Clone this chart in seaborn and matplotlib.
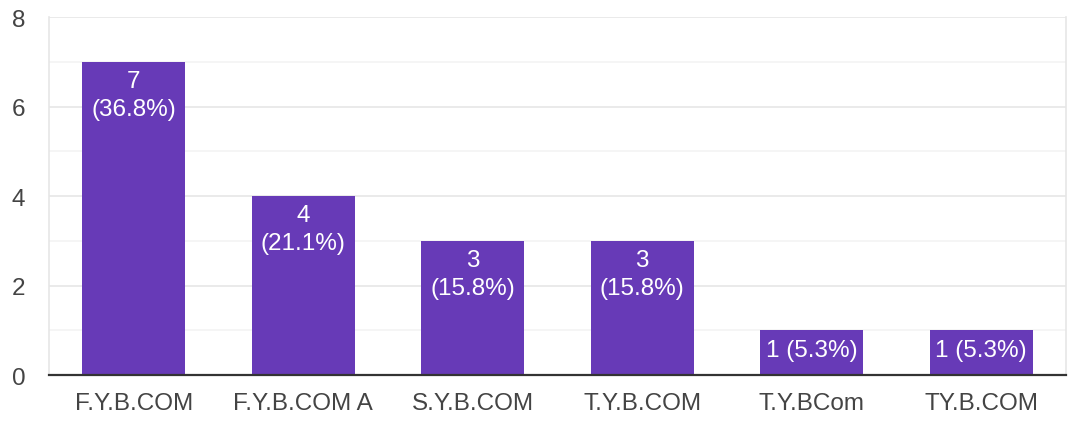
import pandas as pd
import matplotlib.pyplot as plt
import seaborn as sns

# Chart data
classes = ["F.Y.B.COM", "F.Y.B.COM A", "S.Y.B.COM", "T.Y.B.COM", "T.Y.BCom", "TY.B.COM"]
counts = [7, 4, 3, 3, 1, 1]
percents = ["36.8%", "21.1%", "15.8%", "15.8%", "5.3%", "5.3%"]

df = pd.DataFrame({"class": classes, "count": counts, "pct": percents})

sns.set_style("white")
plt.rcParams["font.family"] = ["Liberation Sans", "DejaVu Sans"]

fig = plt.figure(figsize=(10.72, 4.27), dpi=100)
ax = fig.add_axes([0.0457, 0.1194, 0.9487, 0.8384])

sns.barplot(data=df, x="class", y="count", color="#673ab7", saturation=1,
            width=0.61, linewidth=0, ax=ax, zorder=3)

ax.set_xlim(-0.5, 5.5)
ax.set_ylim(0, 8)
ax.set_yticks([0, 2, 4, 6, 8])
ax.set_yticks([1, 3, 5, 7], minor=True)
ax.grid(axis="y", which="major", color="#e6e6e6", lw=1.2, zorder=0)
ax.grid(axis="y", which="minor", color="#f3f3f3", lw=1.2, zorder=0)
ax.tick_params(axis="both", which="both", length=0, labelsize=17.5, colors="#444444")
ax.tick_params(axis="x", pad=12)
ax.tick_params(axis="y", pad=17)
ax.set_xlabel("")
ax.set_ylabel("")

for side in ["left", "right", "top"]:
    ax.spines[side].set_color("#e6e6e6")
    ax.spines[side].set_linewidth(1.2)
ax.spines["top"].set_visible(False)
ax.spines["bottom"].set_color("#333333")
ax.spines["bottom"].set_linewidth(1.6)
ax.spines["bottom"].set_zorder(5)

# Bar labels
for i, row in df.iterrows():
    if row["count"] > 1:
        txt = f"{row['count']}\n({row['pct']})"
    else:
        txt = f"{row['count']} ({row['pct']})"
    ax.annotate(txt, (i, row["count"]), xytext=(0, -6), textcoords="offset points",
                ha="center", va="top", color="white", fontsize=17.5,
                linespacing=1.35, zorder=4)

fig.savefig("out.png", dpi=100)
